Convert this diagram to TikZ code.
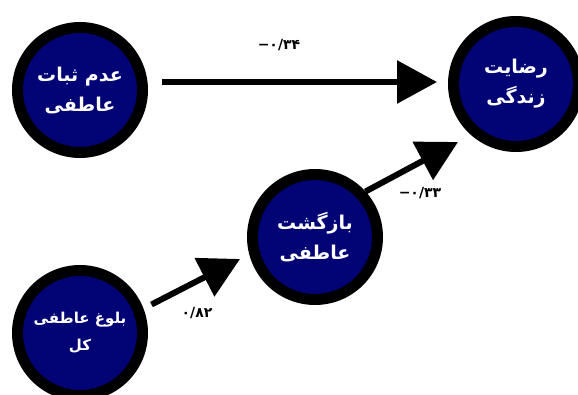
\documentclass[tikz,border=0pt]{standalone}
\usepackage{fontspec}
\TeXXeTstate=1
\newfontfamily\arabicfont[Script=Arabic]{DejaVu Sans}
\newfontfamily\numfont{DejaVu Sans}
\usetikzlibrary{arrows.meta}
\definecolor{navy}{RGB}{2,4,118}
\begin{document}
\begin{tikzpicture}[x=1pt,y=-1pt,
  var/.style={circle, draw=black, line width=11pt, fill=navy, minimum size=125pt,
    inner sep=0pt, text=white, align=center,
    font=\arabicfont\bfseries\fontsize{19}{30}\selectfont},
  smalltext/.style={font=\arabicfont\bfseries\fontsize{15}{27}\selectfont},
  arr/.style={line width=6pt, -{Triangle[length=40pt,width=42pt]}},
  coef/.style={font=\numfont\bfseries\fontsize{14}{16}\selectfont}]
\useasboundingbox[fill=white] (0,0) rectangle (578,395);
\node[var] (n1) at (80,90) {\beginR عدم ثبات\endR\\\beginR عاطفی\endR};
\node[var] (n2) at (516,84) {\beginR رضایت\endR\\\beginR زندگی\endR};
\node[var] (n3) at (315,237) {\beginR بازگشت\endR\\\beginR عاطفی\endR};
\node[var, smalltext] (n4) at (80,333) {\beginR بلوغ عاطفی\endR\\\beginR کل\endR};
\coordinate (t1) at (437,82);
\coordinate (t2) at (458,142);
\coordinate (t3) at (240,259);
\draw[arr, shorten <=14pt] (n1.east |- t1) -- (t1);
\draw[arr] (n3.42) -- (t2);
\draw[arr, shorten <=9pt] (n4.21) -- (t3);
\node[coef] (c1) at (279,45) {−۰/۳۴};
\node[coef] (c2) at (420,193) {−۰/۳۳};
\node[coef] (c3) at (197,313) {۰/۸۲};
\end{tikzpicture}
\end{document}
